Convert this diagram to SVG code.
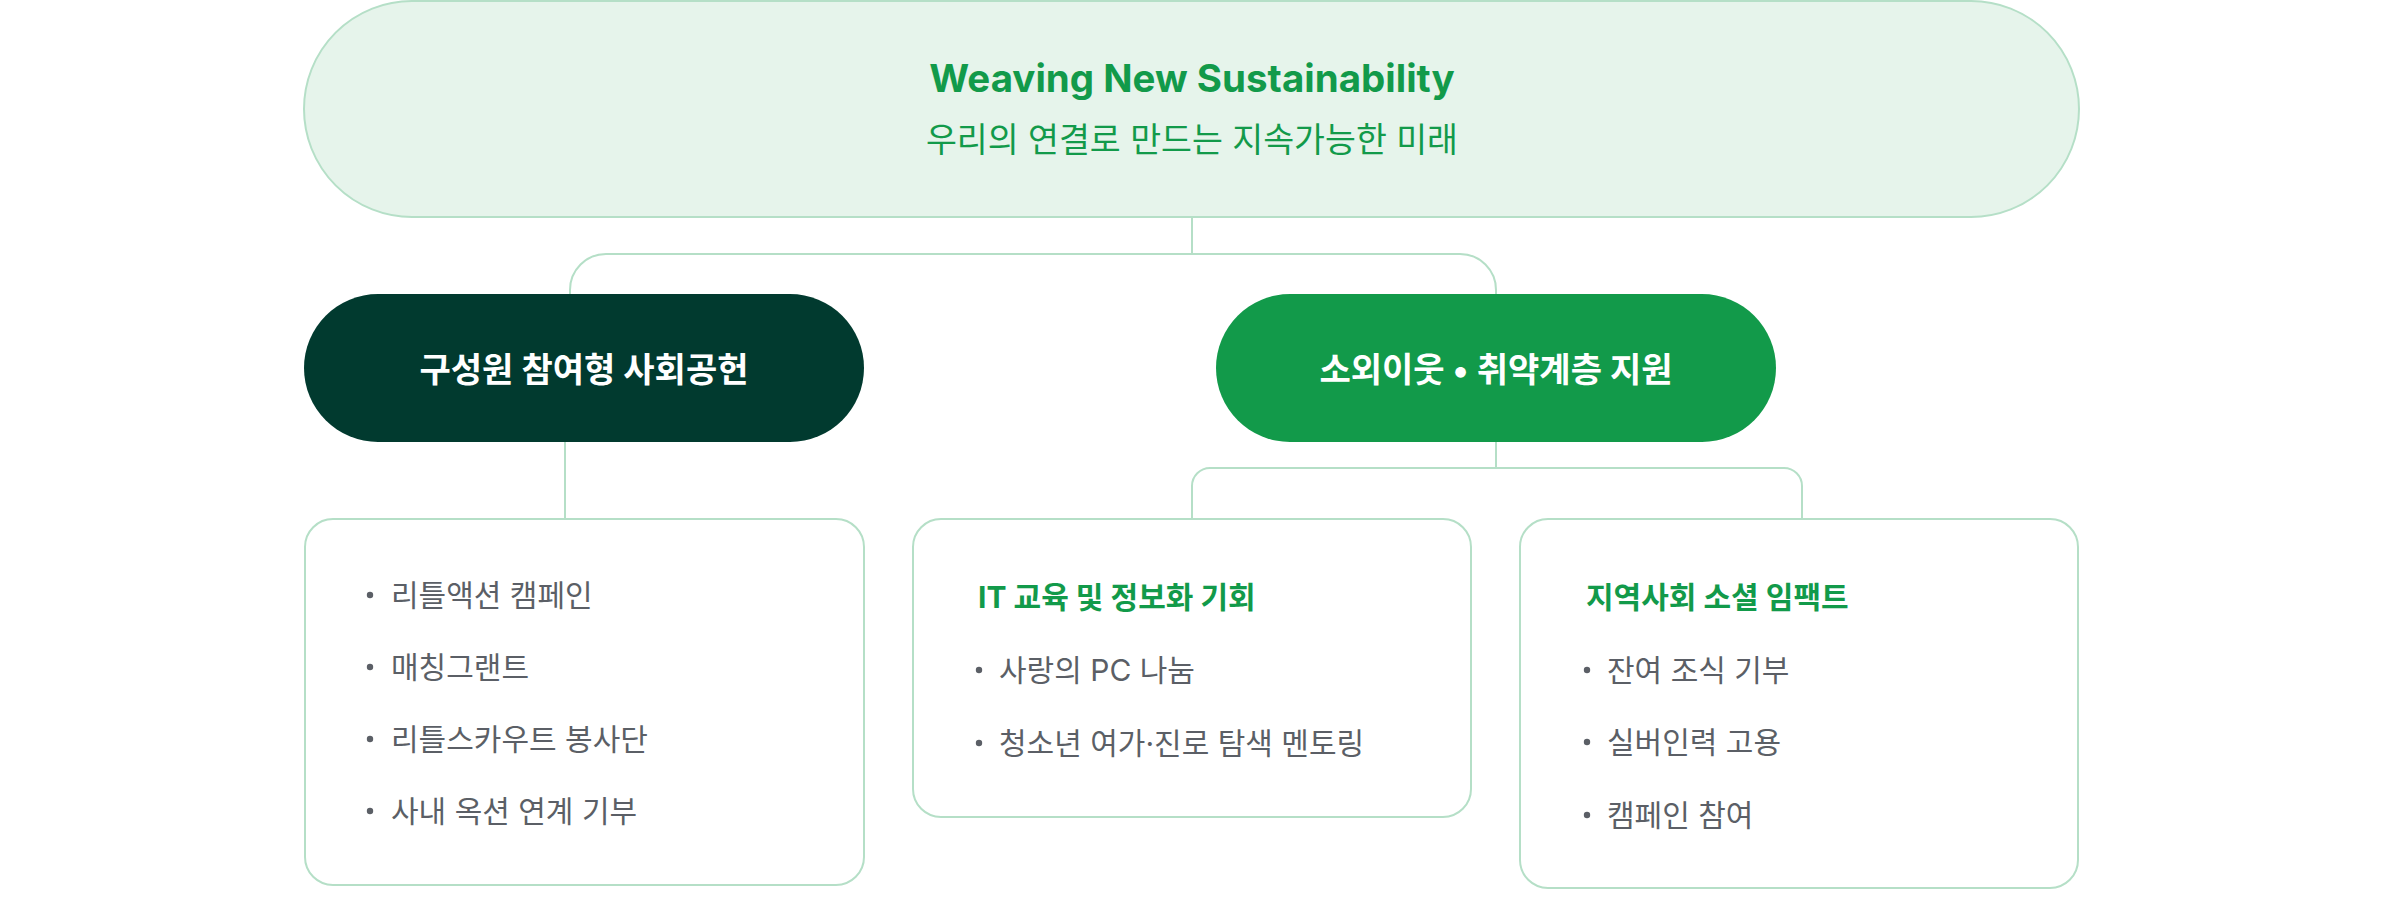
<svg xmlns="http://www.w3.org/2000/svg" width="2384" height="898" viewBox="0 0 2384 898">
<style>
.t{font-family:Inter,"Noto Sans CJK KR",sans-serif}
.line{fill:none;stroke:#b5dfc7;stroke-width:2}
.box{fill:#ffffff;stroke:#b5dfc7;stroke-width:2}
.item{font-family:Inter,"Noto Sans CJK KR",sans-serif;font-size:30px;fill:#5b5f66}
.head{font-family:Inter,"Noto Sans CJK KR",sans-serif;font-size:30px;font-weight:700;fill:#129a4a}
.dot{fill:#5b5f66}
.l2{font-family:Inter,"Noto Sans CJK KR",sans-serif;font-size:34px;font-weight:700;fill:#ffffff}
</style>
<rect width="2384" height="898" fill="#ffffff"/>
<g id="connectors">
<path class="line" d="M1192 217 V254"/>
<path class="line" d="M570 294 V290 A36 36 0 0 1 606 254 H1460 A36 36 0 0 1 1496 290 V294"/>
<path class="line" d="M565 442 V519"/>
<path class="line" d="M1496 442 V468"/>
<path class="line" d="M1192 519 V486 A18 18 0 0 1 1210 468 H1784 A18 18 0 0 1 1802 486 V519"/>
</g>
<g id="root">
<rect x="304" y="1" width="1775" height="216" rx="108" fill="#e6f4eb" stroke="#b5dfc7" stroke-width="2"/>
<text class="t" x="1192" y="92" text-anchor="middle" font-size="38.5" font-weight="700" fill="#129a4a">Weaving New Sustainability</text>
<text class="t" x="1192" y="152" text-anchor="middle" font-size="33.6" fill="#129a4a">우리의 연결로 만드는 지속가능한 미래</text>
</g>
<g id="employee">
<rect x="304" y="294" width="560" height="148" rx="74" fill="#013a2f"/>
<text class="l2" x="584" y="382" text-anchor="middle">구성원 참여형 사회공헌</text>
</g>
<g id="vulnerable">
<rect x="1216" y="294" width="560" height="148" rx="74" fill="#129a4a"/>
<text class="l2" x="1496" y="382" text-anchor="middle">소외이웃 • 취약계층 지원</text>
</g>
<g id="box-employee">
<rect class="box" x="305" y="519" width="559" height="366" rx="28"/>
<circle class="dot" cx="370" cy="595" r="3.2"/>
<text class="item" x="391" y="606">리틀액션 캠페인</text>
<circle class="dot" cx="370" cy="667" r="3.2"/>
<text class="item" x="391" y="678">매칭그랜트</text>
<circle class="dot" cx="370" cy="739" r="3.2"/>
<text class="item" x="391" y="750">리틀스카우트 봉사단</text>
<circle class="dot" cx="370" cy="811" r="3.2"/>
<text class="item" x="391" y="822">사내 옥션 연계 기부</text>
</g>
<g id="box-it">
<rect class="box" x="913" y="519" width="558" height="298" rx="28"/>
<text class="head" x="978" y="608">IT 교육 및 정보화 기회</text>
<circle class="dot" cx="979" cy="670" r="3.2"/>
<text class="item" x="999" y="681">사랑의 PC 나눔</text>
<circle class="dot" cx="979" cy="743" r="3.2"/>
<text class="item" x="999" y="754">청소년 여가·진로 탐색 멘토링</text>
</g>
<g id="box-local">
<rect class="box" x="1520" y="519" width="558" height="369" rx="28"/>
<text class="head" x="1586" y="608">지역사회 소셜 임팩트</text>
<circle class="dot" cx="1587" cy="670" r="3.2"/>
<text class="item" x="1607" y="681">잔여 조식 기부</text>
<circle class="dot" cx="1587" cy="742" r="3.2"/>
<text class="item" x="1607" y="753">실버인력 고용</text>
<circle class="dot" cx="1587" cy="815" r="3.2"/>
<text class="item" x="1607" y="826">캠페인 참여</text>
</g>
</svg>
